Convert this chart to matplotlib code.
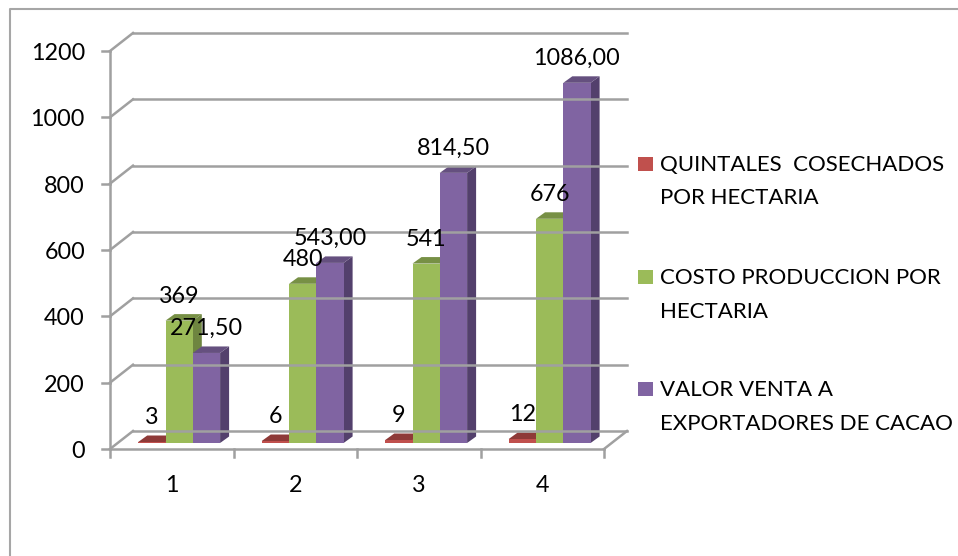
import matplotlib
matplotlib.use("Agg")
import matplotlib.pyplot as plt
from matplotlib.patches import Polygon, Rectangle
from matplotlib.lines import Line2D
from matplotlib.transforms import Affine2D, IdentityTransform

categories = ["1", "2", "3", "4"]
quintales = [3, 6, 9, 12]
costo = [369, 480, 541, 676]
venta = [271.50, 543.00, 814.50, 1086.00]
yticks = [0, 200, 400, 600, 800, 1000, 1200]

series_names = ["QUINTALES  COSECHADOS\nPOR HECTARIA",
                "COSTO PRODUCCION POR\nHECTARIA",
                "VALOR VENTA A\nEXPORTADORES DE CACAO"]
front_colors = ["#C0504D", "#9BBB59", "#8064A2"]
top_colors = ["#8E3A38", "#779045", "#65507F"]
side_colors = ["#7E3331", "#6E8540", "#53406C"]
grid_color = "#A0A0A0"

W, H = 958, 556
plt.rcParams["font.family"] = ["Lato", "DejaVu Sans"]
FS = 16
NUM_FS = 16.8
LW = 1.8

fig = plt.figure(figsize=(W / 100, H / 100), dpi=100)
ax = fig.add_axes([110 / W, 1 - 449 / H, (604 - 110) / W, (449 - 51) / H])
ax.set_xlim(0, 4)
ax.set_ylim(0, 1200)
ax.axis("off")

px = IdentityTransform()


# shift in pixels from the front plane of the box towards the back
def shifted(dx, dy):
    return ax.transData + Affine2D().translate(dx, dy)


def pixel_line(xs, ys):
    ax.add_line(Line2D(xs, ys, transform=px, color=grid_color, lw=LW, clip_on=False,
                       solid_capstyle="projecting"))


wall = shifted(23, 18)
floor_line = dict(color=grid_color, lw=LW, clip_on=False, solid_capstyle="projecting")

# outer frame of the picture
fig.add_artist(Line2D([10 / W, 10 / W, 1], [0, 1 - 9 / H, 1 - 9 / H], color="#A6A6A6", lw=1.5))

# wall lines, side lines and ticks
for v in yticks:
    ax.plot([0, 4], [v, v], transform=wall, **floor_line)
    x0, y0 = ax.transData.transform((0, v))
    pixel_line([x0, x0 + 23], [y0, y0 + 18])
    pixel_line([x0 - 8, x0], [y0, y0])
    ax.annotate(str(v), (0, v), xytext=(-25, -2.5), textcoords="offset pixels", ha="right",
                va="center", fontsize=NUM_FS, annotation_clip=False)
ax.plot([0, 0], [0, 1200], **floor_line)
ax.plot([0, 4], [0, 0], **floor_line)
x4, y4 = ax.transData.transform((4, 0))
pixel_line([x4, x4 + 23], [y4, y4 + 18])

for i, c in enumerate(categories):
    x0, y0 = ax.transData.transform((i, 0))
    pixel_line([x0, x0], [y0, y0 - 8])
    ax.annotate(c, (i + 0.5, 0), xytext=(0, -36.5), textcoords="offset pixels", ha="center",
                va="center", fontsize=NUM_FS, annotation_clip=False)
pixel_line([x4, x4], [y4, y4 - 8])

# bars, from left to right so that later faces hide earlier sides
bar_w = 0.221
start = 0.2285
base = shifted(0, 6)
labels = [[str(v) for v in quintales], [str(v) for v in costo],
          [("%.2f" % v).replace(".", ",") for v in venta]]

for i in range(len(categories)):
    for s, vals in enumerate([quintales, costo, venta]):
        v = vals[i]
        left = i + start + s * bar_w
        right = left + bar_w
        xl, yb = base.transform((left, 0))
        xr, yt = base.transform((right, v))
        dx, dy = 9, 6.5
        ax.add_patch(Polygon([(xr, yb), (xr + dx, yb + dy), (xr + dx, yt + dy), (xr, yt)],
                             transform=px, facecolor=side_colors[s], edgecolor="none", clip_on=False))
        ax.add_patch(Polygon([(xl, yt), (xl + dx, yt + dy), (xr + dx, yt + dy), (xr, yt)],
                             transform=px, facecolor=top_colors[s], edgecolor="none", clip_on=False))
        ax.bar(left, v, bar_w, align="edge", color=front_colors[s], transform=base, clip_on=False)
        ax.annotate(labels[s][i], ((xl + xr) / 2, yt), xycoords="figure pixels", xytext=(0, 24.5),
                    textcoords="offset pixels", ha="center", va="center", fontsize=NUM_FS,
                    annotation_clip=False)

# legend
for s, (name, top) in enumerate(zip(series_names, [164, 277, 389])):
    fig.add_artist(Rectangle((638 / W, 1 - (top + 7) / H), 14.5 / W, 14.5 / H,
                             transform=fig.transFigure, facecolor=front_colors[s], edgecolor="none"))
    for k, line in enumerate(name.split("\n")):
        fig.text(660 / W, 1 - (top + 1.5 + k * 33) / H, line, fontsize=FS, ha="left", va="center")

fig.savefig("out.png", dpi=100, facecolor="white")
